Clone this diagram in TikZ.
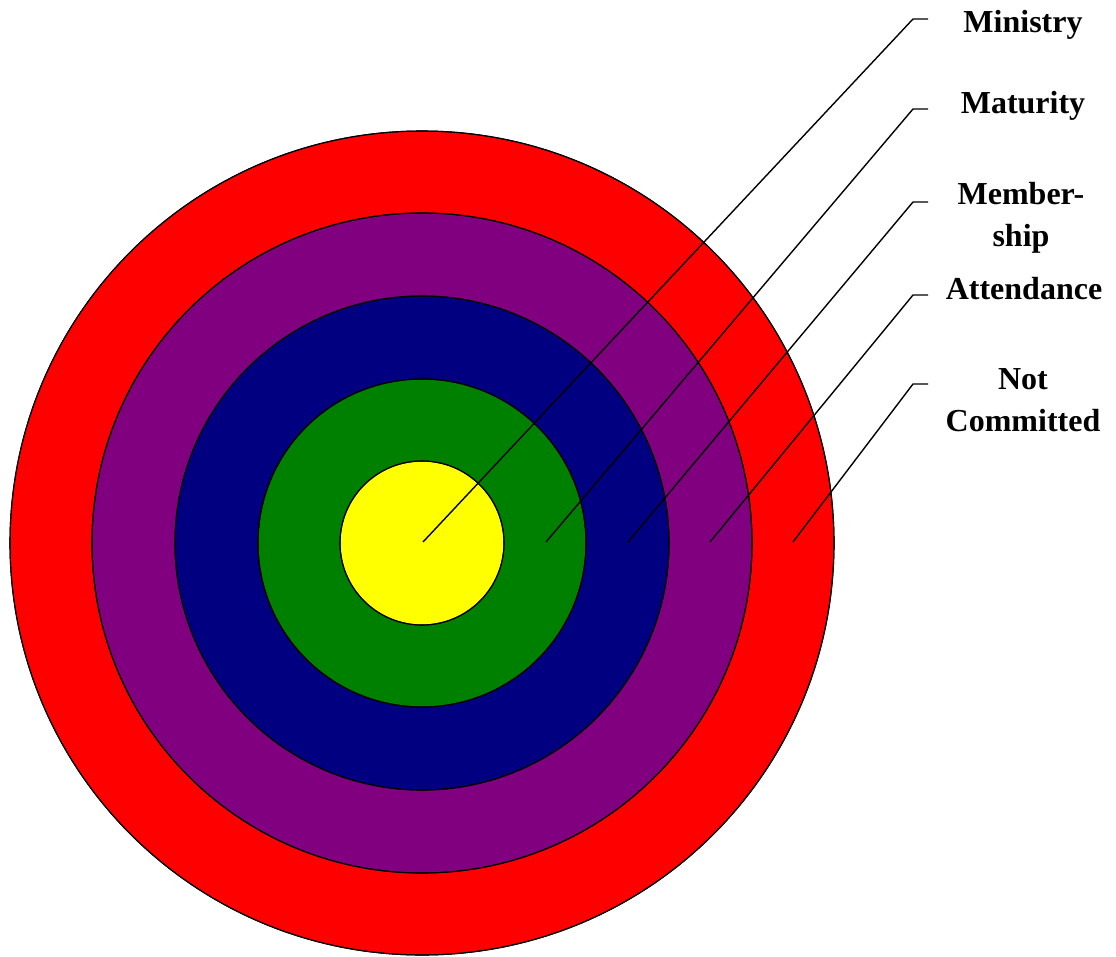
\documentclass[tikz,border=0pt]{standalone}
\usepackage{fontspec}
\setmainfont{Liberation Serif}
\begin{document}
\begin{tikzpicture}[x=1pt,y=-1pt,
  ring/.style={draw=black,line width=1.1pt},
  leader/.style={draw=black,line width=1.4pt},
  lbl/.style={font=\fontsize{32}{42}\selectfont\bfseries,align=center,inner sep=0pt}]
\useasboundingbox (0,0) rectangle (1116,956);
\coordinate (c) at (422,543);
\fill[ring,fill={rgb,255:red,255;green,0;blue,0}] (c) circle[radius=412];
\fill[ring,fill={rgb,255:red,128;green,0;blue,128}] (c) circle[radius=330];
\fill[ring,fill={rgb,255:red,0;green,0;blue,128}] (c) circle[radius=247];
\fill[ring,fill={rgb,255:red,0;green,128;blue,0}] (c) circle[radius=164];
\fill[ring,fill={rgb,255:red,255;green,255;blue,0}] (c) circle[radius=82];
\draw[ring] (c) circle[radius=412];
\draw[ring] (c) circle[radius=330];
\draw[ring] (c) circle[radius=247];
\draw[ring] (c) circle[radius=164];
\draw[ring] (c) circle[radius=82];
% start points
\coordinate (s1) at (423,542);
\coordinate (s2) at (546,542);
\coordinate (s3) at (628,542);
\coordinate (s4) at (710,542);
\coordinate (s5) at (793,542);
% corners
\coordinate (k1) at (913,19);
\coordinate (k2) at (913,109);
\coordinate (k3) at (913,202);
\coordinate (k4) at (913,295);
\coordinate (k5) at (913,384);
\coordinate (e1) at (928,19);
\coordinate (e2) at (928,109);
\coordinate (e3) at (928,202);
\coordinate (e4) at (928,295);
\coordinate (e5) at (928,384);
\draw[leader] (s1) -- (k1) -- (e1);
\draw[leader] (s2) -- (k2) -- (e2);
\draw[leader] (s3) -- (k3) -- (e3);
\draw[leader] (s4) -- (k4) -- (e4);
\draw[leader] (s5) -- (k5) -- (e5);
\node[lbl] (l1) at (1023,25) {Ministry};
\node[lbl] (l2) at (1023,106) {Maturity};
\node[lbl] (l3) at (1021,218) {Member-\\ship};
\node[lbl] (l4) at (1024,289) {Attendance};
\node[lbl] (l5) at (1023,400) {Not\\Committed};
\end{tikzpicture}
\end{document}
